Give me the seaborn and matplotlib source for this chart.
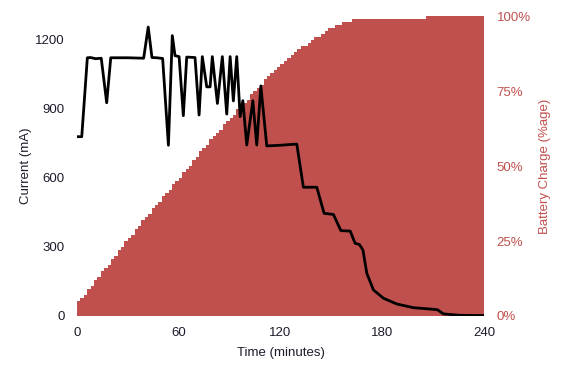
import numpy as np
import pandas as pd
import matplotlib
matplotlib.use("Agg")
import matplotlib.pyplot as plt
import seaborn as sns

# battery charge (%), one value per 2-minute slot
charge_time = list(range(0, 240, 2))
charge_pct = [
    5, 6, 7, 9, 10, 12, 13, 15, 16, 17, 19, 20, 22, 23, 25, 26, 27, 29, 30, 32,
    33, 34, 36, 37, 38, 40, 41, 42, 44, 45, 46, 48, 49, 50, 52, 53, 55,
    56, 57, 59, 60, 61, 62, 64, 65, 66, 67, 69, 70, 71, 72, 74, 75, 76, 77,
    79, 80, 81, 82, 83, 84,
    85, 86, 87, 88, 89, 90, 90, 91, 92, 93, 93, 94, 95, 96, 96, 97, 97, 98, 98, 98,
    99, 99, 99, 99, 99, 99, 99, 99, 99, 99, 99, 99, 99, 99, 99, 99, 99, 99, 99,
    99, 99, 99,
    100, 100, 100, 100, 100, 100, 100, 100, 100, 100, 100, 100, 100, 100, 100,
    100, 100,
]

# charging current (mA)
current_time = [
    0, 2.8, 6.1, 8, 11, 14.3, 17.5, 19.9, 30, 39.3, 42.0, 44.2, 47, 50.5,
    53.9, 56.2, 57.8, 60.2, 62.7, 64.7, 69.6, 72.0, 73.9, 76.5, 78.5, 79.8,
    82.8, 85.7, 88.3, 90.3, 92.2, 94.2, 96.2, 97.8, 100.1, 103.7, 106.0,
    108.4, 111.9, 120, 129.6, 133.5, 141.4, 145.7, 151.2, 155.6, 161.1,
    164.0, 166.5, 168.6, 170.9, 174.8, 180.7, 188.6, 198.4, 210.2, 212.6,
    216.1, 226.0, 240,
]
current_ma = [
    777, 777, 1119, 1120, 1115, 1117, 924, 1119, 1119, 1117, 1252, 1120,
    1119, 1116, 740, 1215, 1128, 1124, 868, 1122, 1120, 871, 1124, 993, 993,
    1124, 921, 1124, 875, 1124, 932, 1124, 864, 933, 741, 933, 741, 997, 737,
    740, 745, 558, 558, 445, 440, 370, 368, 315, 310, 286, 185, 113, 77, 52,
    36, 29, 27, 9, 3, 2,
]

x_ticks = [0, 60, 120, 180, 240]
left_ticks = [0, 300, 600, 900, 1200]
right_ticks = [0, 25, 50, 75, 100]

red = "#C0504D"
dark = "#1c1c2c"

sns.set_style("white")
plt.rcParams["font.family"] = ["Liberation Sans", "DejaVu Sans"]

charge_df = pd.DataFrame({"t": charge_time, "pct": charge_pct})
current_df = pd.DataFrame({"t": current_time, "mA": current_ma})

fig = plt.figure(figsize=(5.61, 3.68), dpi=100)
ax = fig.add_axes([77 / 561, 52 / 368, 407 / 561, 300 / 368])
ax2 = ax.twinx()

sns.histplot(
    data=charge_df, x="t", weights="pct", binwidth=2, binrange=(0, 240),
    color=red, alpha=1, edgecolor="none", linewidth=0, antialiased=False,
    ax=ax2,
)
sns.lineplot(data=current_df, x="t", y="mA", color="black", linewidth=2,
             solid_joinstyle="round", solid_capstyle="round", ax=ax, sort=False)

ax.set_zorder(ax2.get_zorder() + 1)
ax.patch.set_visible(False)

ax.set_xlim(0, 240)
ax.set_ylim(0, 1300)
ax2.set_ylim(0, 100)
ax.set_xticks(x_ticks)
ax.set_yticks(left_ticks)
ax2.set_yticks(right_ticks)
ax2.set_yticklabels([f"{v}%" for v in right_ticks])

for a in (ax, ax2):
    for s in a.spines.values():
        s.set_visible(False)

ax.tick_params(axis="both", length=0, labelsize=9.5, colors=dark)
ax.tick_params(axis="y", pad=9)
ax.tick_params(axis="x", pad=8)
ax2.tick_params(axis="y", length=0, labelsize=9.5, colors=red, pad=9)

ax.set_xlabel("Time (minutes)", fontsize=9.5, color=dark, labelpad=6)
ax.set_ylabel("Current (mA)", fontsize=9.5, color=dark, labelpad=2)
ax2.set_ylabel("Battery Charge (%age)", fontsize=9.5, color=red, labelpad=6)

fig.savefig("out.png", dpi=100, facecolor="white")
